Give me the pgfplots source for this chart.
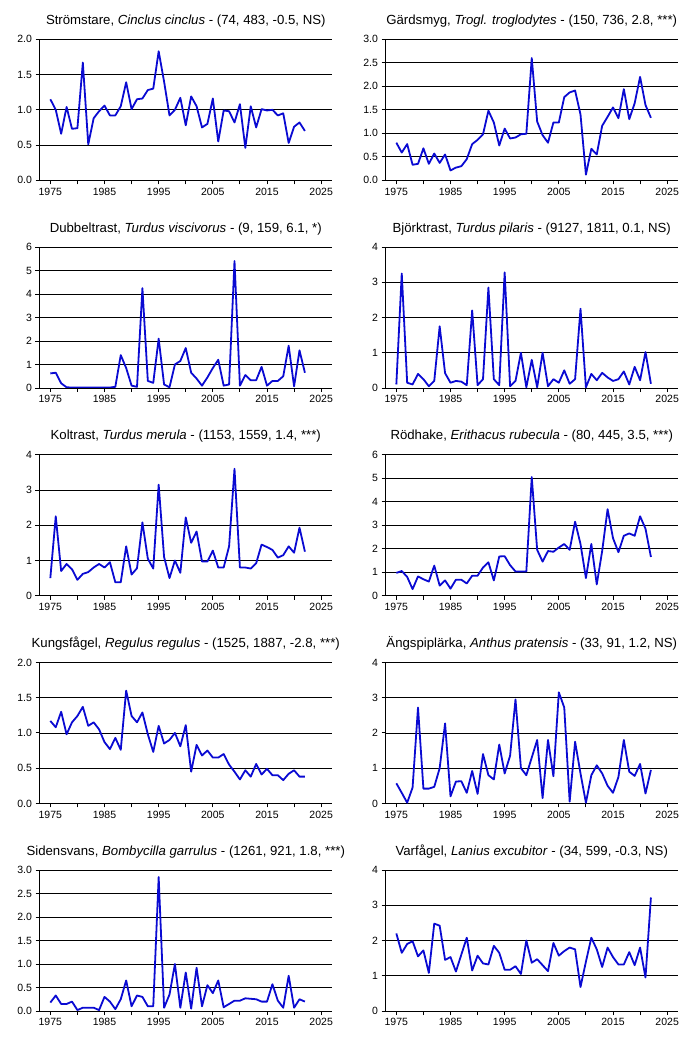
\documentclass[border=0pt]{standalone}
\usepackage{pgfplots}
\usepackage{pgfplotstable}
\pgfplotsset{compat=1.18}
\usepackage{fontspec}
\setmainfont{Liberation Sans}
\definecolor{lineblue}{RGB}{10,10,210}

\pgfplotstableread{
year strom gards dubbel bjork kolt rodh kungs angs siden varf
1975 1.15 0.80 0.62 0.10 0.50 0.97 1.17 0.57 0.18 2.20
1976 1.00 0.59 0.65 3.25 2.25 1.05 1.08 0.30 0.33 1.65
1977 0.66 0.77 0.20 0.15 0.70 0.80 1.30 0.02 0.15 1.90
1978 1.04 0.33 0.03 0.10 0.90 0.28 0.98 0.45 0.15 1.98
1979 0.73 0.35 0.02 0.40 0.75 0.82 1.15 2.72 0.20 1.55
1980 0.74 0.68 0.02 0.25 0.45 0.70 1.24 0.42 0.02 1.72
1981 1.67 0.35 0.02 0.05 0.62 0.60 1.37 0.42 0.07 1.08
1982 0.51 0.57 0.02 0.20 0.67 1.28 1.10 0.47 0.07 2.48
1983 0.88 0.37 0.02 1.75 0.80 0.43 1.15 1.00 0.07 2.42
1984 0.98 0.55 0.02 0.42 0.90 0.65 1.05 2.27 0.02 1.45
1985 1.06 0.21 0.02 0.15 0.80 0.30 0.87 0.20 0.30 1.53
1986 0.92 0.27 0.02 0.20 0.95 0.68 0.77 0.62 0.20 1.12
1987 0.92 0.30 0.05 0.18 0.38 0.68 0.93 0.63 0.04 1.60
1988 1.05 0.45 1.40 0.08 0.38 0.52 0.76 0.30 0.25 2.08
1989 1.39 0.77 0.85 2.20 1.40 0.85 1.60 0.92 0.65 1.15
1990 1.01 0.86 0.10 0.08 0.60 0.85 1.24 0.27 0.10 1.57
1991 1.15 0.98 0.05 0.25 0.78 1.20 1.15 1.40 0.33 1.35
1992 1.16 1.48 4.25 2.85 2.08 1.42 1.29 0.80 0.30 1.32
1993 1.28 1.23 0.30 0.25 1.05 0.65 0.98 0.68 0.10 1.85
1994 1.30 0.74 0.22 0.08 0.77 1.67 0.73 1.67 0.10 1.65
1995 1.83 1.10 2.10 3.28 3.15 1.68 1.10 0.85 2.85 1.17
1996 1.40 0.89 0.15 0.05 1.10 1.30 0.85 1.35 0.07 1.17
1997 0.92 0.91 0.03 0.20 0.50 1.03 0.90 2.95 0.35 1.27
1998 1.00 0.98 1.00 1.00 1.00 1.03 1.00 1.00 1.00 1.05
1999 1.17 0.99 1.15 0.02 0.65 1.03 0.81 0.80 0.07 2.00
2000 0.78 2.60 1.70 0.80 2.22 5.05 1.11 1.30 0.82 1.37
2001 1.19 1.25 0.65 0.02 1.50 1.95 0.45 1.80 0.05 1.47
2002 1.05 0.96 0.40 1.00 1.82 1.45 0.83 0.15 0.92 1.30
2003 0.75 0.80 0.10 0.05 0.97 1.90 0.68 1.80 0.10 1.13
2004 0.80 1.23 0.45 0.25 0.97 1.87 0.75 0.77 0.55 1.93
2005 1.16 1.23 0.85 0.15 1.28 2.05 0.65 3.15 0.38 1.57
2006 0.55 1.77 1.20 0.50 0.80 2.20 0.65 2.72 0.65 1.70
2007 0.99 1.87 0.10 0.12 0.80 1.95 0.70 0.05 0.08 1.80
2008 0.98 1.91 0.15 0.25 1.40 3.15 0.55 1.75 0.15 1.75
2009 0.82 1.40 5.40 2.25 3.60 2.20 0.45 0.85 0.22 0.68
2010 1.08 0.12 0.10 0.02 0.80 0.75 0.34 0.02 0.22 1.40
2011 0.46 0.67 0.55 0.40 0.80 2.20 0.47 0.80 0.27 2.08
2012 1.05 0.55 0.33 0.22 0.77 0.48 0.38 1.08 0.26 1.75
2013 0.75 1.16 0.33 0.43 0.92 1.90 0.56 0.85 0.25 1.25
2014 1.01 1.35 0.90 0.30 1.45 3.68 0.41 0.50 0.20 1.80
2015 0.99 1.55 0.10 0.20 1.38 2.45 0.49 0.30 0.20 1.53
2016 1.00 1.32 0.30 0.25 1.30 1.85 0.40 0.75 0.57 1.32
2017 0.92 1.94 0.30 0.47 1.08 2.55 0.40 1.80 0.22 1.32
2018 0.95 1.30 0.50 0.10 1.15 2.65 0.33 0.90 0.07 1.67
2019 0.53 1.64 1.80 0.60 1.40 2.55 0.42 0.78 0.75 1.30
2020 0.76 2.20 0.07 0.22 1.22 3.38 0.47 1.12 0.07 1.80
2021 0.82 1.60 1.60 1.02 1.93 2.85 0.38 0.28 0.25 0.95
2022 0.70 1.33 0.65 0.12 1.25 1.65 0.38 0.95 0.20 3.22
}\data

\pgfplotsset{
  panel/.style={
    scale only axis, width=292.5pt, height=141pt,
    xmin=1973, xmax=2027, ymin=0,
    axis x line*=bottom, axis y line*=left,
    axis line style={black, line width=0.9pt},
    xtick={1975,1985,...,2025},
    minor xtick={1980,1990,...,2020},
    tick align=outside,
    major tick length=4pt, minor tick length=4pt,
    tick style={black, line width=0.9pt},
    xticklabel style={/pgf/number format/1000 sep={}, font=\fontsize{10.5}{12}\selectfont},
    yticklabel style={font=\fontsize{10.5}{12}\selectfont},
    /pgf/number format/assume math mode=true,
    ymajorgrids, grid style={black, line width=0.8pt},
    title style={at={(0.5,1)}, anchor=base, yshift=9pt, font=\fontsize{13.2}{15}\selectfont},
    every axis plot post/.style={lineblue, line width=1.8pt, line join=round, mark=none},
  },
  dec/.style={yticklabel style={/pgf/number format/.cd, fixed, fixed zerofill, precision=1}},
}

\begin{document}
\begin{tikzpicture}
\useasboundingbox (0,0) rectangle (692pt,-1038pt);
% Row 1
\begin{axis}[panel, dec, at={(39.5pt,-39.3pt)}, anchor=north west, ymax=2, ytick={0,0.5,...,2},
  title={Strömstare, \textit{Cinclus cinclus}  - (74, 483, -0.5, NS)}]
\addplot table[x=year, y=strom] {\data};
\end{axis}
\begin{axis}[panel, dec, at={(385.5pt,-39.3pt)}, anchor=north west, ymax=3, ytick={0,0.5,...,3},
  title={Gärdsmyg, \textit{Trogl. troglodytes} - (150, 736, 2.8, ***)}]
\addplot table[x=year, y=gards] {\data};
\end{axis}
% Row 2
\begin{axis}[panel, at={(39.5pt,-247pt)}, anchor=north west, ymax=6, ytick={0,1,...,6},
  title={Dubbeltrast, \textit{Turdus viscivorus} - (9, 159, 6.1, *)}]
\addplot table[x=year, y=dubbel] {\data};
\end{axis}
\begin{axis}[panel, at={(385.5pt,-247pt)}, anchor=north west, ymax=4, ytick={0,1,...,4},
  title={Björktrast, \textit{Turdus pilaris}  - (9127, 1811, 0.1, NS)}]
\addplot table[x=year, y=bjork] {\data};
\end{axis}
% Row 3
\begin{axis}[panel, at={(39.5pt,-454.7pt)}, anchor=north west, ymax=4, ytick={0,1,...,4},
  title={Koltrast, \textit{Turdus merula}  - (1153, 1559, 1.4, ***)}]
\addplot table[x=year, y=kolt] {\data};
\end{axis}
\begin{axis}[panel, at={(385.5pt,-454.7pt)}, anchor=north west, ymax=6, ytick={0,1,...,6},
  title={Rödhake, \textit{Erithacus rubecula}  - (80, 445, 3.5, ***)}]
\addplot table[x=year, y=rodh] {\data};
\end{axis}
% Row 4
\begin{axis}[panel, dec, at={(39.5pt,-662.4pt)}, anchor=north west, ymax=2, ytick={0,0.5,...,2},
  title={Kungsfågel, \textit{Regulus regulus} - (1525, 1887, -2.8, ***)}]
\addplot table[x=year, y=kungs] {\data};
\end{axis}
\begin{axis}[panel, at={(385.5pt,-662.4pt)}, anchor=north west, ymax=4, ytick={0,1,...,4},
  title={Ängspiplärka, \textit{Anthus pratensis} - (33, 91, 1.2, NS)}]
\addplot table[x=year, y=angs] {\data};
\end{axis}
% Row 5
\begin{axis}[panel, dec, at={(39.5pt,-870pt)}, anchor=north west, ymax=3, ytick={0,0.5,...,3},
  title={Sidensvans, \textit{Bombycilla garrulus} - (1261, 921, 1.8, ***)}]
\addplot table[x=year, y=siden] {\data};
\end{axis}
\begin{axis}[panel, at={(385.5pt,-870pt)}, anchor=north west, ymax=4, ytick={0,1,...,4},
  title={Varfågel, \textit{Lanius excubitor} - (34, 599, -0.3, NS)}]
\addplot table[x=year, y=varf] {\data};
\end{axis}
\end{tikzpicture}
\end{document}
